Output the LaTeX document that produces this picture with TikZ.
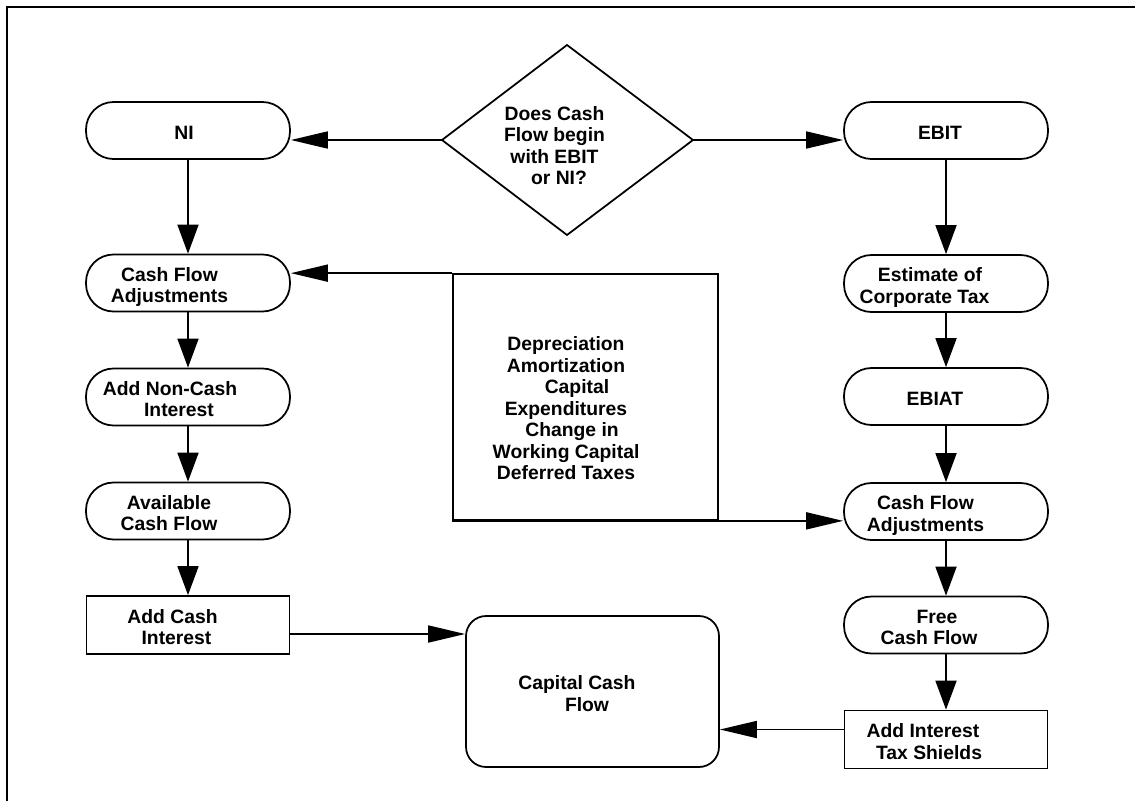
\documentclass[tikz,border=0pt]{standalone}
\usepackage{fontspec}
\setmainfont{Liberation Sans}
\usetikzlibrary{arrows.meta}
\newcommand\mytab[2]{\raisebox{-0.09cm}[\height][\depth]{\begin{tabular}{@{}c@{}}#2\end{tabular}}\hspace*{#1}}
\begin{document}
\begin{tikzpicture}[x=0.02cm,y=-0.02cm,
  every node/.style={font=\bfseries\fontsize{11}{12.2}\selectfont, inner sep=0pt},
  stadium/.style={draw, line width=1pt, rounded corners=0.55cm, minimum width=4.08cm, minimum height=1.14cm},
  sqbox/.style={draw, line width=1pt, minimum width=4.06cm, minimum height=1.16cm},
  plainbox/.style={draw, line width=1pt},
  arrV/.style={line width=1pt, -{Triangle[length=0.58cm,width=0.42cm]}},
  arrH/.style={line width=1pt, -{Triangle[length=0.74cm,width=0.34cm]}},
  ]
\useasboundingbox (0,0) rectangle (1135,801);
% frame
\draw[line width=1.3pt] (1135,7) -- (7,7) -- (7,801);

% decision diamond
\coordinate (dW) at (442,140);
\coordinate (dN) at (567,45);
\coordinate (dE) at (693,140);
\coordinate (dS) at (567,235);
\draw[line width=1pt] (dW) -- (dN) -- (dE) -- (dS) -- cycle;
\node (dtxt) at (554.5,148) {\begin{tabular}{@{}c@{}}Does Cash\\Flow begin\\with EBIT\\\hspace*{0.18cm}or NI?\end{tabular}};

% left column
\node[stadium] (ni)    at (188,130.5) {\mytab{0.16cm}{NI}};
\node[stadium] (cfaL)  at (188,283)   {\mytab{0.74cm}{Cash Flow\\Adjustments}};
\node[stadium] (addnc) at (188,397)   {\mytab{0.72cm}{Add Non-Cash\\\hspace*{0.36cm}Interest}};
\node[stadium] (avail) at (188,511)   {\mytab{0.76cm}{Available\\Cash Flow}};
\node[sqbox]   (addcash) at (188,625) {\mytab{0.62cm}{Add Cash\\\hspace*{0.16cm}Interest}};

% right column
\node[stadium] (ebit)  at (946,130.5) {\mytab{0.24cm}{EBIT}};
\node[stadium] (est)   at (946,283.5) {\mytab{0.86cm}{\hspace*{0.22cm}Estimate of\\Corporate Tax}};
\node[stadium] (ebiat) at (946,396.5) {\mytab{0.44cm}{EBIAT}};
\node[stadium] (cfaR)  at (946,511.5) {\mytab{0.82cm}{Cash Flow\\Adjustments}};
\node[stadium] (fcf)   at (946,625)   {\mytab{0.68cm}{\hspace*{0.32cm}Free\\Cash Flow}};
\node[sqbox]   (aits)  at (946,739.5) {\mytab{0.92cm}{Add Interest\\\hspace*{0.24cm}Tax Shields}};

% adjustments box
\node[plainbox, minimum width=5.3cm, minimum height=4.92cm] (adj) at (585.5,397) {};
\node (adjt) at (566,411) {\begin{tabular}{@{}c@{}}Depreciation\\Amortization\\\hspace*{0.44cm}Capital\\Expenditures\\\hspace*{0.24cm}Change in\\Working Capital\\Deferred Taxes\end{tabular}};

% capital cash flow
\node[plainbox, rounded corners=0.4cm, minimum width=5.06cm, minimum height=3.02cm] (ccf) at (592.5,691.5) {\mytab{0.62cm}{Capital Cash\\\hspace*{0.4cm}Flow}};

% connectors
\draw[arrH] (dW) -- (dW -| ni.east);
\draw[arrH] (dE) -- (dE -| ebit.west);
\draw[arrV] (ni) -- (cfaL);
\draw[arrV] (cfaL) -- (addnc);
\draw[arrV] (addnc) -- (avail);
\draw[arrV] (avail) -- (addcash);
\draw[arrV] (ebit) -- (est);
\draw[arrV] (est) -- (ebiat);
\draw[arrV] (ebiat) -- (cfaR);
\draw[arrV] (cfaR) -- (fcf);
\draw[arrV] (fcf) -- (aits);
\draw[arrH] (adj.north west) -- (adj.north west -| cfaL.east);
\draw[arrH] (adj.south west) -- (adj.south west -| cfaR.west);
\draw[arrH] ([yshift=-0.18cm]addcash.east) -- ([yshift=-0.18cm]addcash.east -| ccf.west);
\draw[arrH] ([yshift=0.2cm]aits.west) -- ([yshift=0.2cm]aits.west -| ccf.east);
\end{tikzpicture}
\end{document}
